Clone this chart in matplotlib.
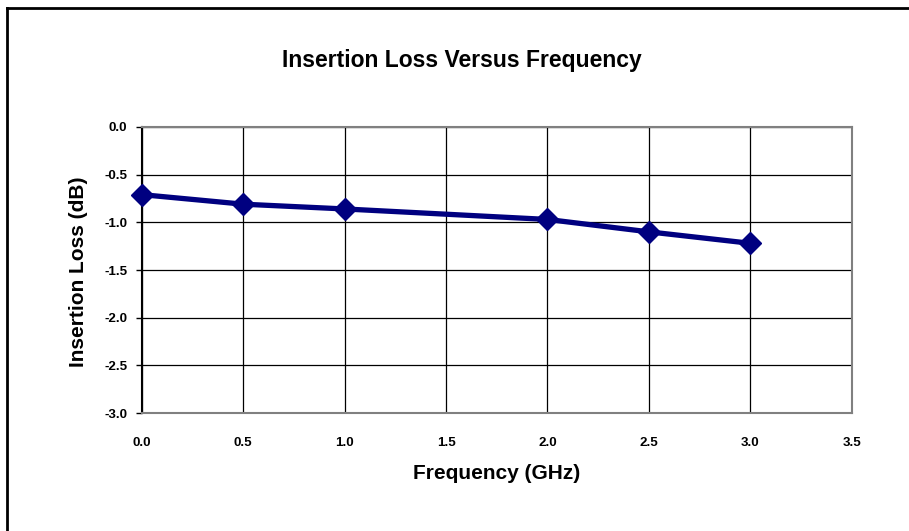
import matplotlib.pyplot as plt
from matplotlib.lines import Line2D

# Data
freq = [0.0, 0.5, 1.0, 2.0, 2.5, 3.0]
loss = [-0.71, -0.81, -0.86, -0.97, -1.10, -1.22]
x_ticks = [0.0, 0.5, 1.0, 1.5, 2.0, 2.5, 3.0, 3.5]
y_ticks = [0.0, -0.5, -1.0, -1.5, -2.0, -2.5, -3.0]

plt.rcParams['font.family'] = ['Liberation Sans', 'DejaVu Sans']

fig = plt.figure(figsize=(9.09, 5.31), dpi=100)
ax = fig.add_axes([0.156, 0.222, 0.781, 0.539])

ax.plot(freq, loss, color="#000080", linewidth=3.8, marker="D", markersize=11.5,
        markerfacecolor="#000080", markeredgecolor="#000080", zorder=3, clip_on=False)

ax.set_xlim(0, 3.5)
ax.set_ylim(-3.0, 0.0)
ax.set_xticks(x_ticks)
ax.set_yticks(y_ticks)
ax.set_xticklabels([f"{v:.1f}" for v in x_ticks], fontweight="bold", fontsize=9.6)
ax.set_yticklabels([f"{v:.1f}" for v in y_ticks], fontweight="bold", fontsize=9.6)
ax.tick_params(axis="x", length=0, pad=17.5)
ax.tick_params(axis="y", length=4.5, width=1, direction="out", pad=6)

ax.grid(True, color="black", linewidth=0.9)
ax.set_axisbelow(True)

for side in ["right", "bottom", "top"]:
    ax.spines[side].set_color("#808080")
    ax.spines[side].set_linewidth(1.5)
ax.spines["left"].set_color("black")
ax.spines["left"].set_linewidth(1.5)

# Titel og aksetitler
ax.set_title("Insertion Loss Versus Frequency", fontweight="bold", fontsize=16.5,
             x=0.451, y=1.231, va="center", pad=0)
ax.set_xlabel("Frequency (GHz)", fontweight="bold", fontsize=15, va="center")
ax.xaxis.set_label_coords(0.5, -0.21)
ax.set_ylabel("Insertion Loss (dB)", fontweight="bold", fontsize=15, va="center")
ax.yaxis.set_label_coords(-0.089, 0.495)

# Outer chart border (left and top edges visible)
fig.add_artist(Line2D([0.0077, 0.0077], [0.0, 0.985], transform=fig.transFigure, color="black", linewidth=2))
fig.add_artist(Line2D([0.0077, 1.0], [0.985, 0.985], transform=fig.transFigure, color="black", linewidth=2))

fig.savefig("out.png", dpi=100)
